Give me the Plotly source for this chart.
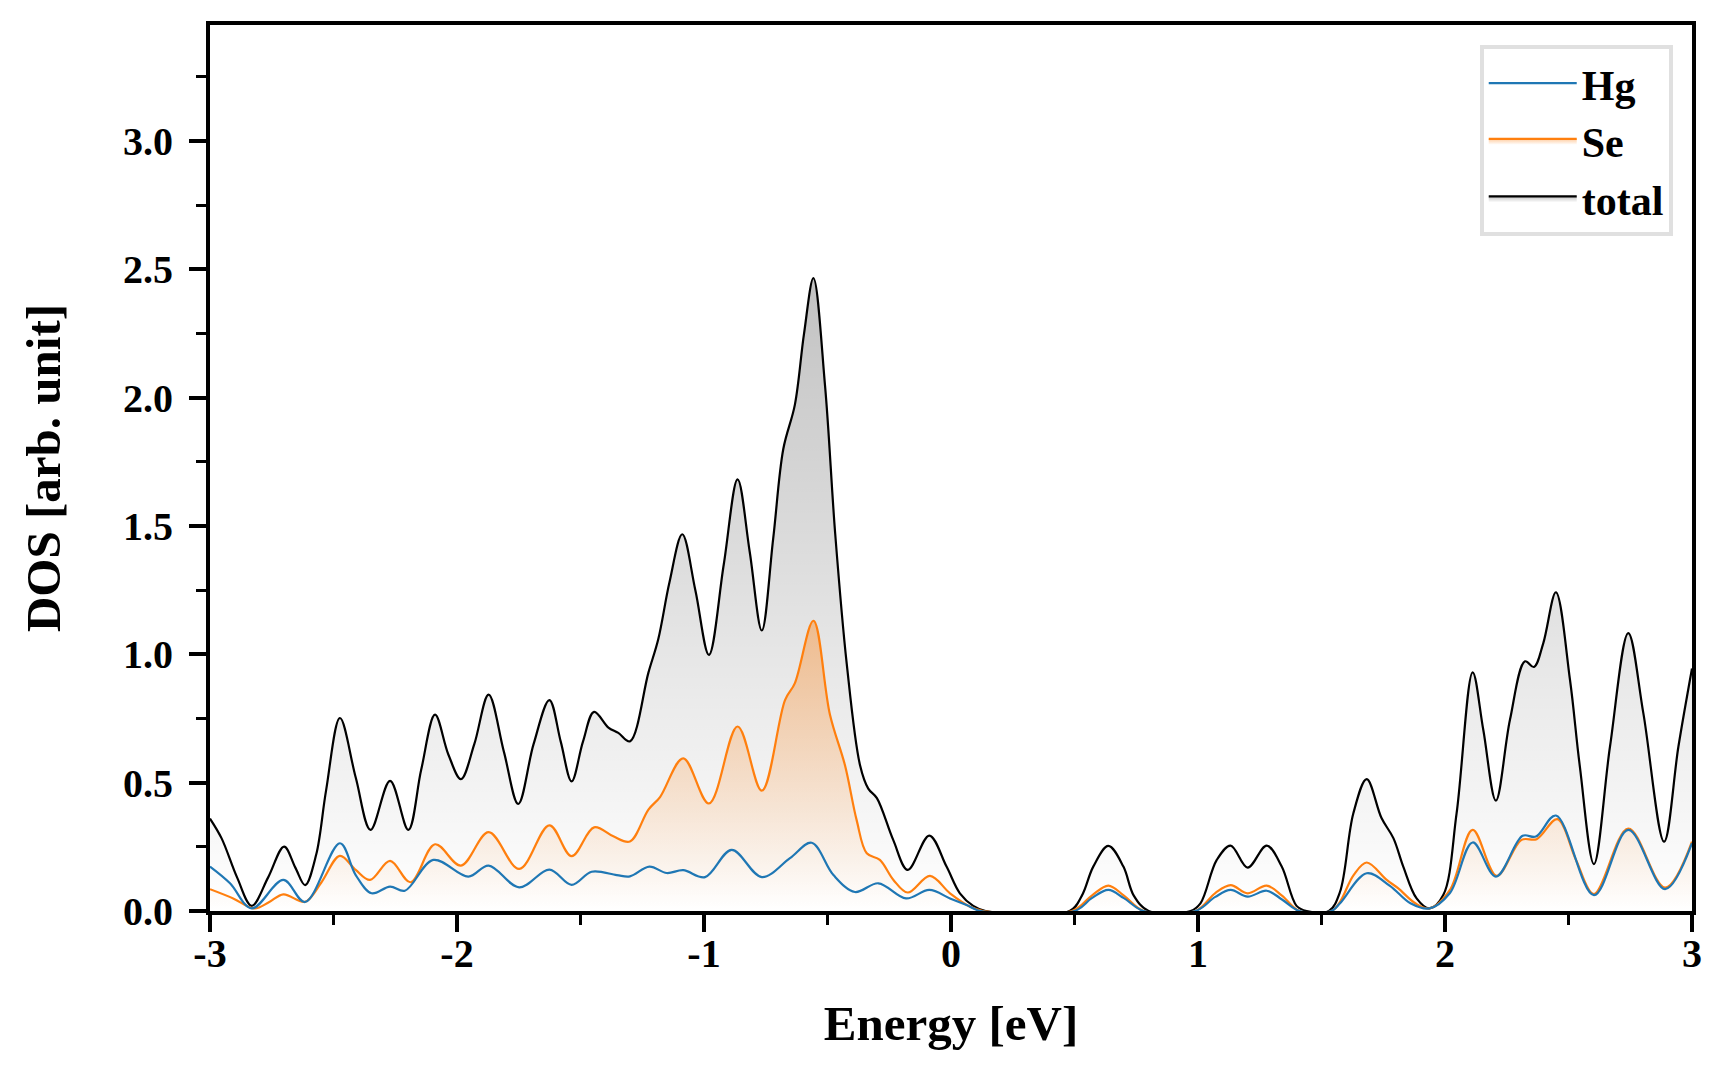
import plotly.graph_objects as go

# energies [eV] and DOS values
e_total = [-3.00, -2.953, -2.89, -2.831, -2.765, -2.700, -2.655, -2.615, -2.57, -2.53,
           -2.474, -2.41, -2.350, -2.271, -2.197, -2.145, -2.089, -2.035, -1.984, -1.93,
           -1.872, -1.81, -1.752, -1.69, -1.626, -1.58, -1.536, -1.49, -1.445, -1.387,
           -1.347, -1.300, -1.225, -1.185, -1.14, -1.088, -1.035, -0.980, -0.92, -0.864,
           -0.815, -0.766, -0.72, -0.679, -0.632, -0.595, -0.557, -0.510, -0.469, -0.422,
           -0.368, -0.335, -0.300, -0.234, -0.175, -0.088, -0.018, 0.036, 0.090, 0.14,
           0.48, 0.53, 0.576, 0.637, 0.698, 0.74, 0.80, 0.97, 1.01, 1.076,
           1.132, 1.201, 1.278, 1.339, 1.399, 1.44, 1.53, 1.575, 1.629, 1.683,
           1.743, 1.791, 1.831, 1.885, 1.937, 1.993, 2.047, 2.112, 2.155, 2.206,
           2.263, 2.324, 2.360, 2.398, 2.449, 2.506, 2.546, 2.603, 2.668, 2.742,
           2.803, 2.887, 2.945, 3.00]
dos_total = [0.36, 0.283, 0.13, 0.02, 0.13, 0.251, 0.17, 0.101, 0.22, 0.47,
             0.752, 0.52, 0.316, 0.507, 0.316, 0.55, 0.765, 0.61, 0.514, 0.65,
             0.843, 0.62, 0.417, 0.65, 0.822, 0.66, 0.505, 0.66, 0.776, 0.715,
             0.694, 0.661, 0.929, 1.06, 1.28, 1.468, 1.25, 0.998, 1.35, 1.682,
             1.40, 1.093, 1.45, 1.80, 1.973, 2.25, 2.466, 2.047, 1.472, 0.962,
             0.567, 0.477, 0.44, 0.277, 0.160, 0.294, 0.173, 0.069, 0.02, 0.0,
             0.0, 0.06, 0.173, 0.254, 0.173, 0.06, 0.0, 0.0, 0.03, 0.199,
             0.255, 0.169, 0.255, 0.173, 0.02, 0.0, 0.0, 0.075, 0.381, 0.514,
             0.362, 0.284, 0.173, 0.049, 0.01, 0.062, 0.381, 0.930, 0.706, 0.430,
             0.745, 0.973, 0.951, 1.044, 1.242, 0.901, 0.563, 0.183, 0.641, 1.083,
             0.771, 0.270, 0.641, 0.945]

e_se = [-3.00, -2.906, -2.82, -2.76, -2.703, -2.615, -2.55, -2.474, -2.41, -2.352,
        -2.271, -2.188, -2.089, -1.984, -1.872, -1.748, -1.626, -1.536, -1.445, -1.367,
        -1.300, -1.225, -1.178, -1.084, -0.980, -0.864, -0.766, -0.672, -0.632, -0.557,
        -0.490, -0.429, -0.382, -0.341, -0.288, -0.233, -0.175, -0.085, -0.004, 0.077,
        0.13, 0.49, 0.57, 0.637, 0.70, 0.78, 0.99, 1.07, 1.132, 1.201,
        1.278, 1.34, 1.41, 1.54, 1.575, 1.63, 1.683, 1.764, 1.811, 1.88,
        1.937, 2.02, 2.112, 2.209, 2.310, 2.371, 2.455, 2.53, 2.603, 2.742,
        2.891, 3.00]
dos_se = [0.085, 0.049, 0.01, 0.035, 0.065, 0.036, 0.11, 0.215, 0.16, 0.121,
          0.195, 0.112, 0.260, 0.177, 0.307, 0.164, 0.334, 0.214, 0.326, 0.291,
          0.271, 0.395, 0.444, 0.595, 0.419, 0.719, 0.469, 0.822, 0.888, 1.131,
          0.765, 0.567, 0.354, 0.225, 0.199, 0.121, 0.072, 0.137, 0.069, 0.017,
          0.0, 0.0, 0.06, 0.099, 0.06, 0.0, 0.0, 0.07, 0.101, 0.069,
          0.099, 0.06, 0.0, 0.0, 0.036, 0.14, 0.189, 0.121, 0.088, 0.03,
          0.01, 0.082, 0.316, 0.137, 0.277, 0.280, 0.358, 0.20, 0.066, 0.321,
          0.091, 0.27]

e_hg = [-3.00, -2.919, -2.831, -2.703, -2.615, -2.474, -2.41, -2.346, -2.271, -2.211,
        -2.096, -1.954, -1.872, -1.748, -1.626, -1.536, -1.455, -1.353, -1.300, -1.221,
        -1.151, -1.084, -0.996, -0.888, -0.766, -0.652, -0.564, -0.476, -0.389, -0.294,
        -0.182, -0.088, -0.004, 0.063, 0.12, 0.50, 0.57, 0.637, 0.70, 0.78,
        0.99, 1.07, 1.132, 1.201, 1.278, 1.34, 1.41, 1.54, 1.575, 1.683,
        1.777, 1.86, 1.937, 2.02, 2.112, 2.206, 2.314, 2.368, 2.449, 2.603,
        2.742, 2.891, 3.00]
dos_hg = [0.173, 0.108, 0.01, 0.121, 0.035, 0.264, 0.14, 0.069, 0.095, 0.079,
          0.199, 0.134, 0.177, 0.092, 0.161, 0.102, 0.153, 0.140, 0.135, 0.173,
          0.148, 0.159, 0.132, 0.238, 0.132, 0.206, 0.266, 0.140, 0.074, 0.108,
          0.049, 0.082, 0.049, 0.023, 0.0, 0.0, 0.05, 0.082, 0.05, 0.0,
          0.0, 0.055, 0.082, 0.056, 0.079, 0.045, 0.0, 0.0, 0.030, 0.147,
          0.098, 0.03, 0.01, 0.07, 0.267, 0.134, 0.293, 0.290, 0.372, 0.062,
          0.316, 0.085, 0.264]

x_ticks = [-3, -2, -1, 0, 1, 2, 3]
x_labels = ["-3", "-2", "-1", "0", "1", "2", "3"]
y_ticks = [0.0, 0.5, 1.0, 1.5, 2.0, 2.5, 3.0]
y_labels = ["0.0", "0.5", "1.0", "1.5", "2.0", "2.5", "3.0"]

FONT = "Liberation Serif"
ymax = 1.4 * max(dos_total)

fig = go.Figure()

fig.add_trace(go.Scatter(
    x=e_total, y=dos_total, name="total", mode="lines", line_shape="spline",
    line=dict(color="black", width=2.2), fill="tozeroy",
    fillgradient=dict(type="vertical", start=0, stop=max(dos_total),
                      colorscale=[[0, "rgba(0,0,0,0)"], [1, "rgba(0,0,0,0.24)"]]),
    legendrank=3))

fig.add_trace(go.Scatter(
    x=e_se, y=dos_se, name="Se", mode="lines", line_shape="spline",
    line=dict(color="#ff7f0e", width=2.2), fill="tozeroy",
    fillgradient=dict(type="vertical", start=0, stop=max(dos_se),
                      colorscale=[[0, "rgba(255,127,14,0)"], [1, "rgba(255,127,14,0.4)"]]),
    legendrank=2))

fig.add_trace(go.Scatter(
    x=e_hg, y=dos_hg, name="Hg", mode="lines", line_shape="spline",
    line=dict(color="#1f77b4", width=2.2),
    legendrank=1))

axis_common = dict(
    showline=True, linecolor="black", linewidth=4, mirror=True,
    ticks="outside", ticklen=17, tickwidth=3.5, tickcolor="black",
    showgrid=False, zeroline=False,
    tickfont=dict(family=FONT, size=40, color="black", weight="bold"),
)

fig.update_layout(
    width=1728, height=1080,
    margin=dict(l=210, r=36, t=25, b=169),
    plot_bgcolor="white", paper_bgcolor="white",
    xaxis=dict(range=[-3, 3], tickvals=x_ticks, ticktext=x_labels,
               ticklabelstandoff=-13,
               minor=dict(dtick=0.5, tick0=0, ticks="outside", ticklen=10,
                          tickwidth=3, tickcolor="black"),
               title=dict(text="Energy [eV]", standoff=32,
                          font=dict(family=FONT, size=49, color="black", weight="bold")),
               **axis_common),
    yaxis=dict(range=[0, ymax], tickvals=y_ticks, ticktext=y_labels,
               ticklabelstandoff=8,
               minor=dict(dtick=0.25, tick0=0, ticks="outside", ticklen=10,
                          tickwidth=3, tickcolor="black"),
               title=dict(text="DOS [arb. unit]", standoff=48,
                          font=dict(family=FONT, size=49, color="black", weight="bold")),
               **axis_common),
    legend=dict(x=0.987, y=0.977, xanchor="right", yanchor="top",
                bgcolor="white", bordercolor="#e0e0e0", borderwidth=4,
                itemwidth=88,
                font=dict(family=FONT, size=42, color="black", weight="bold")),
)

fig.write_html("out.html", config={"displayModeBar": False},
               post_script="document.body.style.margin='0';")
